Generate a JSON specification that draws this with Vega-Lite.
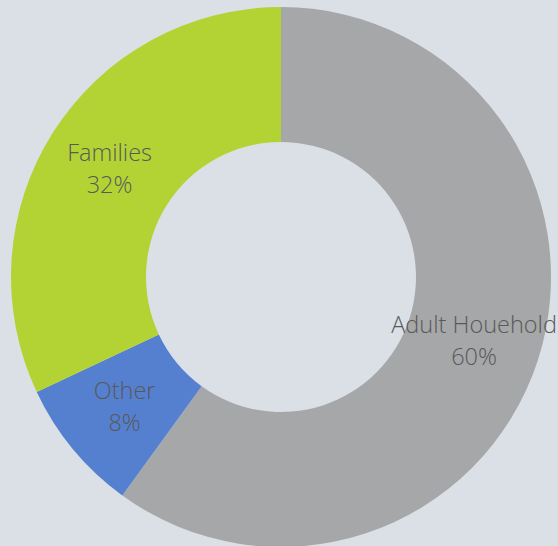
{
  "$schema": "https://vega.github.io/schema/vega-lite/v6.json",
  "autosize": {"type": "fit", "contains": "padding"},
  "width": 558,
  "height": 546,
  "padding": {"left": 4, "top": 8, "right": 0, "bottom": 0},
  "background": "#dbe0e7",
  "view": {"stroke": null},
  "data": {
    "values": [
      {"category": "Adult Houehold", "value": 60, "label": "Adult Houehold\n60%", "rank": 1},
      {"category": "Other", "value": 8, "label": "Other\n8%", "rank": 2},
      {"category": "Families", "value": 32, "label": "Families\n32%", "rank": 3}
    ]
  },
  "encoding": {
    "theta": {"field": "value", "type": "quantitative", "stack": true},
    "order": {"field": "rank", "type": "quantitative"}
  },
  "layer": [
    {
      "mark": {"type": "arc", "outerRadius": 270, "innerRadius": 135},
      "encoding": {
        "color": {
          "field": "category",
          "type": "nominal",
          "scale": {"domain": ["Adult Houehold", "Other", "Families"], "range": ["#a6a7a9", "#5580d0", "#b3d335"]},
          "legend": null
        }
      }
    },
    {
      "mark": {"type": "text", "radius": 203, "dy": -14, "font": "Open Sans", "fontSize": 23.5, "fontWeight": 300, "lineBreak": "\n", "lineHeight": 32, "baseline": "middle", "align": "center", "color": "#595959"},
      "encoding": {
        "text": {"field": "label", "type": "nominal"}
      }
    }
  ]
}
